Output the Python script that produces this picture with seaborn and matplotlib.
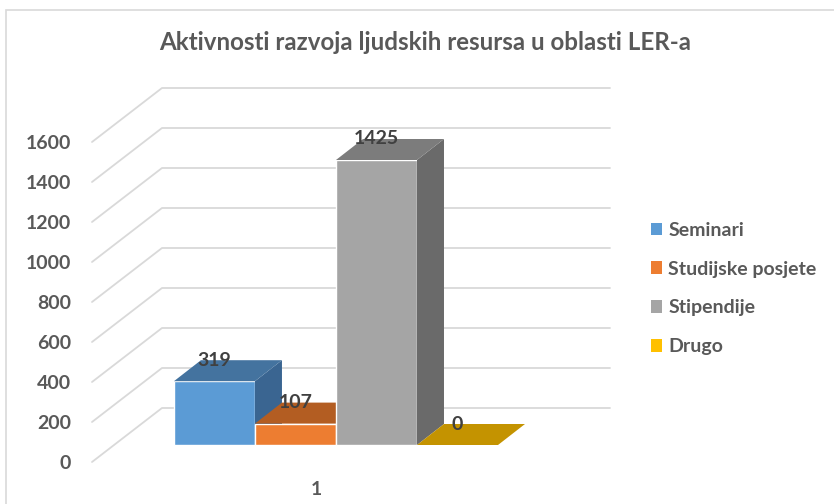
import matplotlib
matplotlib.use("Agg")
import matplotlib.pyplot as plt
import numpy as np
import pandas as pd
import seaborn as sns
from matplotlib.transforms import ScaledTranslation
from matplotlib.patches import Polygon, Rectangle, Patch
from matplotlib.lines import Line2D

# ---------------- data ----------------
title = "Aktivnosti razvoja ljudskih resursa u oblasti LER-a"
category = ["1"]
series = ["Seminari", "Studijske posjete", "Stipendije", "Drugo"]
values = [319, 107, 1425, 0]
yticks = [0, 200, 400, 600, 800, 1000, 1200, 1400, 1600]

front_colors = ["#5B9BD5", "#ED7D31", "#A5A5A5", "#FFC000"]
top_colors = ["#44739F", "#B35D22", "#7C7C7C", "#C49300"]
side_colors = ["#3A6591", "#9E4F1C", "#6A6A6A", "#A87E00"]

# ---------------- style ----------------
sns.set_theme(style="white")
plt.rcParams["font.family"] = ["Lato", "DejaVu Sans"]
TXT = "#595959"

W, H = 834, 504
fig = plt.figure(figsize=(W / 100, H / 100), dpi=100)
ax = fig.add_axes([92 / W, (H - 462) / H, 448 / W, 360 / H])

df = pd.DataFrame({"cat": category * len(series), "series": series, "value": values})
sns.barplot(data=df, x="cat", y="value", hue="series", hue_order=series,
            palette=front_colors, saturation=1, width=0.8, ax=ax, legend=False,
            errorbar=None)
ax.set_xlim(-0.548, 0.558)
ax.set_ylim(0, 1800)
for s in ax.spines.values():
    s.set_visible(False)
ax.set_xlabel("")
ax.set_ylabel("")
ax.grid(False)
ax.set_yticks(yticks)
ax.set_yticklabels([str(t) for t in yticks], fontweight="bold")
ax.set_xticks([0.005])
ax.set_xticklabels(category, fontweight="bold")
ax.tick_params(axis="y", length=0, pad=15, labelsize=14, labelcolor=TXT)
ax.tick_params(axis="x", length=0, pad=14, labelsize=14, labelcolor=TXT)

# 3D geometry (pixel offsets)
BAR_OFF = (22, 17)     # bar front plane relative to floor front
DEPTH = (27, 21)       # bar depth
WALL = (70, 54)        # back wall relative to floor front

def px(x, v, dx=0.0, dy=0.0):
    p = ax.transData.transform((x, v))
    return ((p[0] + dx) / W, (p[1] + dy) / H)

# back-wall gridlines
xmin, xmax = ax.get_xlim()
for t in yticks:
    a = px(xmin, t)
    b = px(xmin, t, *WALL)
    c = px(xmax, t, *WALL)
    ax.add_line(Line2D([a[0], b[0], c[0]], [a[1], b[1], c[1]], transform=fig.transFigure,
                       color="#D9D9D9", lw=1.3, zorder=1, clip_on=False))

bar_shift = ScaledTranslation(BAR_OFF[0] / 100, BAR_OFF[1] / 100, fig.dpi_scale_trans)
for i, (patch, val) in enumerate(zip(ax.patches, values)):
    patch.set_transform(ax.transData + bar_shift)
    patch.set_zorder(3 + i)
    patch.set_clip_on(False)
    x0 = patch.get_x()
    w = patch.get_width()
    h = patch.get_height()
    A = px(x0, h, *BAR_OFF)
    B = px(x0 + w, h, *BAR_OFF)
    C = px(x0 + w, h, BAR_OFF[0] + DEPTH[0], BAR_OFF[1] + DEPTH[1])
    D = px(x0, h, BAR_OFF[0] + DEPTH[0], BAR_OFF[1] + DEPTH[1])
    E = px(x0 + w, 0, BAR_OFF[0] + DEPTH[0], BAR_OFF[1] + DEPTH[1])
    F = px(x0 + w, 0, *BAR_OFF)
    ax.add_patch(Polygon([B, C, E, F], closed=True, transform=fig.transFigure,
                         facecolor=side_colors[i], edgecolor="none", zorder=3 + i, clip_on=False))
    ax.add_patch(Polygon([A, B, C, D], closed=True, transform=fig.transFigure,
                         facecolor=top_colors[i], edgecolor="none", zorder=3 + i, clip_on=False))
    lab = px(x0 + w / 2, h, BAR_OFF[0], BAR_OFF[1] + DEPTH[1])
    ax.text(lab[0], lab[1], f"{val}", transform=fig.transFigure, ha="center", va="center",
            fontsize=14, fontweight="bold", color="#404040", zorder=20)

# title
fig.text(425 / W, 1 - 42 / H, title, ha="center", va="center", fontsize=17.4,
         color=TXT, fontweight="bold")

# legend
handles = [Patch(facecolor=c, edgecolor="none") for c in front_colors]
fig.legend(handles, series, loc="center left", bbox_to_anchor=(641 / W, 1 - 288.5 / H),
           frameon=False, handlelength=0.6, handleheight=0.6, handletextpad=0.3,
           labelspacing=1.13, borderpad=0, prop={"size": 14, "weight": "bold"},
           labelcolor=TXT)

# chart frame
fig.patches.append(Rectangle((6 / W, -0.1), 1.2, (H - 10) / H + 0.1, transform=fig.transFigure,
                             fill=False, edgecolor="#D9D9D9", lw=1.2))

fig.savefig("out.png", dpi=100, facecolor="white")
